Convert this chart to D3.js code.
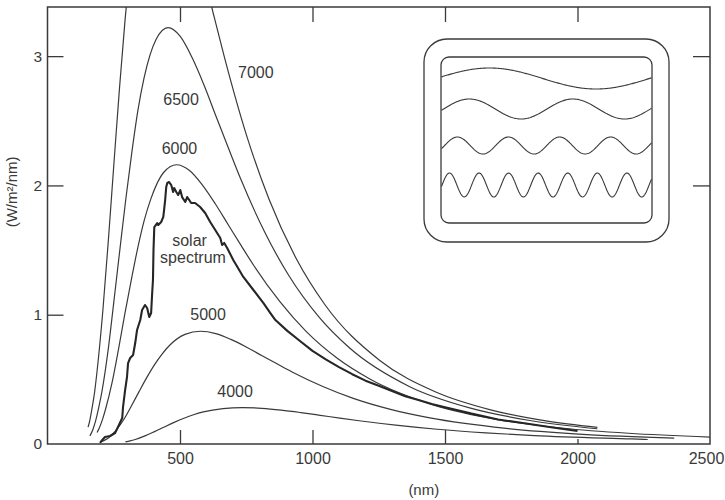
<!DOCTYPE html>
<html>
<head>
<meta charset="utf-8">
<script src="https://cdnjs.cloudflare.com/ajax/libs/d3/7.8.5/d3.min.js"></script>
<style>
    body { margin: 0; background: #fff; }
    svg { display: block; font-family: "Liberation Sans", Arial, sans-serif; }
</style>
</head>
<body>
<div id="plot"></div>
<script>
// Blackbody curves (W/m2/nm).
var wl7000 = [153, 157, 167, 178, 188, 209, 230, 251, 272, 293, 314, 334, 376, 418, 460,
              502, 543, 585, 627, 669, 752, 836, 941, 1045, 1254, 1463, 1672, 1881, 2075];
var val7000 = [0.13, 0.159, 0.264, 0.405, 0.582, 1.035, 1.586, 2.179, 2.760, 3.288, 3.739, 4.100, 4.540, 4.67, 4.572,
               4.332, 4.016, 3.667, 3.318, 2.980, 2.381, 1.893, 1.425, 1.083, 0.646, 0.404, 0.264, 0.179, 0.129];

var wl6500 = [160, 171, 182, 193, 205, 228, 250, 273, 296, 319, 341, 364, 410, 455,
              501, 546, 592, 637, 683, 728, 819, 910, 1024, 1138, 1365, 1593, 1820, 2075];
var val6500 = [0.063, 0.110, 0.182, 0.279, 0.401, 0.714, 1.094, 1.502, 1.903, 2.267, 2.578, 2.827, 3.130, 3.22,
               3.152, 2.987, 2.769, 2.529, 2.287, 2.055, 1.642, 1.305, 0.983, 0.746, 0.445, 0.279, 0.182, 0.118];

var wl6000 = [187, 195, 207, 219, 244, 268, 292, 317, 341, 365, 390, 438, 487, 536,
              584, 633, 682, 731, 779, 877, 974, 1096, 1218, 1461, 1705, 1948, 2192, 2500];
var val6000 = [0.089, 0.122, 0.187, 0.269, 0.479, 0.734, 1.008, 1.277, 1.521, 1.730, 1.896, 2.100, 2.16, 2.115,
               2.004, 1.858, 1.696, 1.534, 1.379, 1.101, 0.875, 0.659, 0.501, 0.299, 0.187, 0.122, 0.083, 0.053];

var wl5000 = [202, 216, 231, 245, 260, 289, 317, 346, 375, 404, 433, 462, 519, 577,
              635, 692, 750, 808, 866, 923, 1039, 1154, 1298, 1443, 1731, 2020, 2365];
var val5000 = [0.016, 0.030, 0.049, 0.076, 0.109, 0.193, 0.296, 0.407, 0.515, 0.614, 0.698, 0.766, 0.848, 0.872,
               0.854, 0.809, 0.750, 0.685, 0.620, 0.557, 0.445, 0.353, 0.266, 0.202, 0.121, 0.075, 0.046];

var wl4000 = [294, 312, 331, 368, 404, 441, 478, 515, 551, 588, 662, 735,
              809, 882, 956, 1029, 1103, 1176, 1323, 1470, 1654, 1838, 2205, 2265];
var val4000 = [0.016, 0.024, 0.035, 0.063, 0.096, 0.132, 0.167, 0.199, 0.226, 0.248, 0.274, 0.282,
               0.276, 0.262, 0.243, 0.222, 0.200, 0.180, 0.144, 0.114, 0.086, 0.065, 0.039, 0.035];

// Solar spectrum, traced.
var solarWl = [198, 210, 217, 236, 255, 266, 282, 285, 293, 300, 304, 312, 323, 331, 338, 350, 357, 368, 376, 384,
               391, 395, 398, 400, 403, 414, 418, 429, 437, 444, 448, 452, 459, 467, 474, 478, 486, 493, 501, 508,
               520, 527, 535, 542, 557, 576, 595, 614, 633, 652, 659, 667, 678, 701, 739, 777, 815, 841, 860, 905,
               954, 1000, 1050, 1100, 1150, 1200, 1250, 1300, 1350, 1400, 1450, 1500, 1600, 1700, 1800, 1900, 2000];
var solarVal = [0.008, 0.039, 0.054, 0.062, 0.085, 0.131, 0.201, 0.286, 0.418, 0.518, 0.626, 0.665, 0.688, 0.781, 0.882, 0.959, 1.036, 1.075, 1.052, 0.982,
                1.013, 1.168, 1.268, 1.50, 1.678, 1.709, 1.694, 1.717, 1.756, 1.887, 1.988, 2.019, 2.026, 2.003, 1.949, 1.98, 1.949, 1.926, 1.964, 1.91,
                1.872, 1.91, 1.887, 1.864, 1.864, 1.833, 1.787, 1.717, 1.655, 1.593, 1.539, 1.555, 1.516, 1.423, 1.292, 1.191, 1.09, 1.013, 0.959, 0.875,
                0.795, 0.72, 0.655, 0.595, 0.54, 0.49, 0.45, 0.41, 0.37, 0.34, 0.31, 0.285, 0.235, 0.19, 0.16, 0.13, 0.10];

// Labels: text, wavelength, value (anchor point in data units).
var labelText = ["7000", "6500", "6000", "solar", "spectrum", "5000", "4000"];
var labelWl = [719, 504, 498, 536, 549, 606, 708];
var labelVal = [2.83, 2.62, 2.243, 1.531, 1.40, 0.959, 0.363];
var labelAnchor = ["start", "middle", "middle", "middle", "middle", "middle", "middle"];

var xTicks = [500, 1000, 1500, 2000, 2500];
var yTicks = [0, 1, 2, 3];

// Inset waves: cycles across the box, amplitude, centre line, phase (deg).
var waveCycles = [0.985, 2.03, 4.11, 7.1];
var waveAmp = [10.5, 10, 8.5, 12];
var waveCenter = [78.5, 109, 145.5, 185];
var wavePhase = [9, -7, -22, -7];

var W = 725, H = 500;
var mLeft = 47.5, mRight = 710, mTop = 7, mBottom = 444;
var ink = "#3a3a3a";

var svg = d3.select("#plot").append("svg")
    .attr("width", W).attr("height", H)
    .attr("viewBox", "0 0 " + W + " " + H);
svg.append("rect").attr("width", W).attr("height", H).attr("fill", "#fff");

var x = d3.scaleLinear().domain([0, 2500]).range([mLeft, mRight]);
var y = d3.scaleLinear().domain([0, 3.38]).range([mBottom, mTop]);

svg.append("clipPath").attr("id", "clip")
    .append("rect")
        .attr("x", mLeft).attr("y", mTop)
        .attr("width", mRight - mLeft).attr("height", mBottom - mTop);

// Axes with inward ticks.
var gx = svg.append("g")
    .attr("transform", "translate(0," + mBottom + ")")
    .call(d3.axisBottom(x).tickValues(xTicks).tickSize(-14).tickPadding(9).tickFormat(d3.format("d")));
gx.select(".domain").remove();
gx.selectAll(".tick").filter(function(d) { return d === 2000; }).select("line").attr("y2", -5);
gx.selectAll(".tick").filter(function(d) { return d === 2500; }).select("line").remove();
gx.selectAll(".tick").filter(function(d) { return d === 2500; }).select("text").attr("x", -4);

var gy = svg.append("g")
    .attr("transform", "translate(" + mLeft + ",0)")
    .call(d3.axisLeft(y).tickValues(yTicks).tickSize(-16).tickPadding(5.5).tickFormat(d3.format("d")));
gy.select(".domain").remove();
gy.selectAll(".tick").filter(function(d) { return d === 0; }).select("line").remove();

var gt = svg.append("g")
    .attr("transform", "translate(0," + mTop + ")")
    .call(d3.axisTop(x).tickValues([500, 1000, 1500, 2000]).tickSize(-15).tickFormat(""));
gt.select(".domain").remove();

var gr = svg.append("g")
    .attr("transform", "translate(" + mRight + ",0)")
    .call(d3.axisRight(y).tickValues([2, 3]).tickSize(-17).tickFormat(""));
gr.select(".domain").remove();

svg.selectAll(".tick line").attr("stroke", ink).attr("stroke-width", 1.3);
svg.selectAll(".tick text").attr("fill", ink).attr("font-family", "Liberation Sans, Arial, sans-serif");
gx.selectAll(".tick text").attr("font-size", 16);
gy.selectAll(".tick text").attr("font-size", 15.5);

// Frame.
svg.append("rect")
    .attr("x", mLeft).attr("y", mTop)
    .attr("width", mRight - mLeft).attr("height", mBottom - mTop)
    .attr("fill", "none").attr("stroke", ink).attr("stroke-width", 1.5);

// Axis titles.
svg.append("text")
    .attr("x", x(1420)).attr("y", 495)
    .attr("text-anchor", "middle").attr("font-size", 15).attr("fill", ink)
    .text("(nm)");
svg.append("text")
    .attr("transform", "translate(17," + y(1.95) + ") rotate(-90)")
    .attr("text-anchor", "middle").attr("font-size", 15).attr("fill", ink)
    .text("(W/m²/nm)");

// Curves.
var line = d3.line()
    .x(function(d) { return x(d[0]); })
    .y(function(d) { return y(d[1]); })
    .curve(d3.curveMonotoneX);

var curves = [
    d3.zip(wl7000, val7000),
    d3.zip(wl6500, val6500),
    d3.zip(wl6000, val6000),
    d3.zip(wl5000, val5000),
    d3.zip(wl4000, val4000)
];

var gc = svg.append("g").attr("clip-path", "url(#clip)");
gc.selectAll("path.bb")
    .data(curves)
    .join("path")
        .attr("class", "bb")
        .attr("d", line)
        .attr("fill", "none")
        .attr("stroke", ink)
        .attr("stroke-width", 1.2);

gc.append("path")
    .datum(d3.zip(solarWl, solarVal))
    .attr("d", line.curve(d3.curveLinear))
    .attr("fill", "none")
    .attr("stroke", "#262626")
    .attr("stroke-width", 2.1)
    .attr("stroke-linejoin", "round");

// Curve labels.
svg.selectAll("text.lab")
    .data(labelText)
    .join("text")
        .attr("class", "lab")
        .attr("x", function(d, i) { return x(labelWl[i]); })
        .attr("y", function(d, i) { return y(labelVal[i]); })
        .attr("text-anchor", function(d, i) { return labelAnchor[i]; })
        .attr("font-size", 16)
        .attr("fill", ink)
        .text(function(d) { return d; });

// Inset: rounded box with four waves.
var inset = svg.append("g");
inset.append("rect")
    .attr("x", 424).attr("y", 39).attr("width", 245).attr("height", 203)
    .attr("rx", 23).attr("ry", 23)
    .attr("fill", "#fff").attr("stroke", ink).attr("stroke-width", 1.3);
inset.append("rect")
    .attr("x", 441).attr("y", 57).attr("width", 211).attr("height", 166)
    .attr("rx", 8).attr("ry", 8)
    .attr("fill", "none").attr("stroke", ink).attr("stroke-width", 1.3);

var ix = d3.scaleLinear().domain([0, 1]).range([441.5, 651.5]);
var steps = d3.range(0, 1.0001, 0.004);
waveCycles.forEach(function(c, i) {
    var pts = steps.map(function(t) {
        var ph = 2 * Math.PI * c * t + wavePhase[i] * Math.PI / 180;
        return [ix(t), waveCenter[i] - waveAmp[i] * Math.sin(ph)];
    });
    inset.append("path")
        .attr("d", d3.line()(pts))
        .attr("fill", "none")
        .attr("stroke", ink)
        .attr("stroke-width", 1.1);
});
</script>
</body>
</html>
